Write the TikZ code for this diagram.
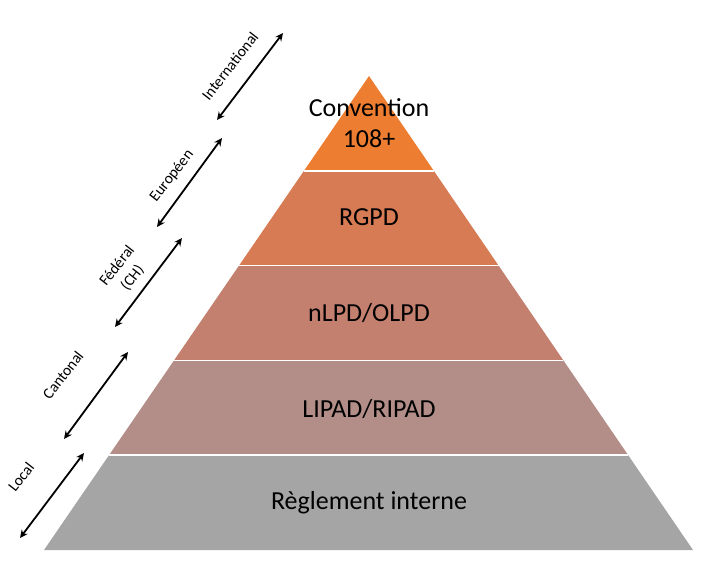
\documentclass[tikz,border=0pt]{standalone}
\usepackage{fontspec}
\setmainfont{Carlito}
\usetikzlibrary{arrows.meta,calc,positioning}
\definecolor{levelA}{HTML}{ED7D31}
\definecolor{levelB}{HTML}{D77B54}
\definecolor{levelC}{HTML}{C4806F}
\definecolor{levelD}{HTML}{B38E88}
\definecolor{levelE}{HTML}{A5A5A5}

\begin{document}
\begin{tikzpicture}[x=1pt, y=-1pt, >={Stealth[length=8pt,width=7.5pt]},
  layertext/.style={font=\fontsize{26}{31}\selectfont, align=center, inner sep=0pt},
  scopelabel/.style={font=\fontsize{15.5}{19.5}\selectfont, align=center, rotate=52, inner sep=0pt},
  scopearrow/.style={<->, line width=1.8pt}]
  \useasboundingbox (0,0) rectangle (715,565);
  % pyramid corners
  \coordinate (apex) at (369,76);
  \coordinate (bl) at (44,550);
  \coordinate (br) at (693,550);
  % five layers, top to bottom
  \foreach \i/\col in {0/levelA,1/levelB,2/levelC,3/levelD,4/levelE} {
    \pgfmathsetmacro{\j}{\i+1}
    \fill[\col] ($(apex)!\i/5!(bl)$) -- ($(apex)!\j/5!(bl)$)
      -- ($(apex)!\j/5!(br)$) -- ($(apex)!\i/5!(br)$) -- cycle;
  }
  \foreach \i in {1,...,4}
    \draw[white, line width=1.5pt] ($(apex)!\i/5!(bl)$) -- ($(apex)!\i/5!(br)$);
  % layer texts
  \node[layertext] (conv) at (369,123) {Convention\\108+};
  \node[layertext] (rgpd) at (369,217) {RGPD};
  \node[layertext] (nlpd) at (369,313) {nLPD/OLPD};
  \node[layertext] (lipad) at (369,409) {LIPAD/RIPAD};
  \node[layertext] (regl) at (369,503) {Règlement interne};
  % scope arrows on the left
  \coordinate (intlA) at (217,120);  \coordinate (intlB) at (283,33);
  \coordinate (euroA) at (157,227);  \coordinate (euroB) at (222,138);
  \coordinate (fedA) at (115,327);   \coordinate (fedB) at (182,238);
  \coordinate (cantA) at (64,439);   \coordinate (cantB) at (128,352);
  \coordinate (locA) at (20,538);    \coordinate (locB) at (84,453);
  \draw[scopearrow] (intlA) -- (intlB);
  \draw[scopearrow] (euroA) -- (euroB);
  \draw[scopearrow] (fedA) -- (fedB);
  \draw[scopearrow] (cantA) -- (cantB);
  \draw[scopearrow] (locA) -- (locB);
  % scope labels
  \node[scopelabel] (intl) at (230,66) {International};
  \node[scopelabel] (euro) at (172,176) {Européen};
  \node[scopelabel] (fed) at (125,272) {Fédéral\\(CH)};
  \node[scopelabel] (cant) at (63,375) {Cantonal};
  \node[scopelabel] (loc) at (21,477) {Local};
\end{tikzpicture}
\end{document}
